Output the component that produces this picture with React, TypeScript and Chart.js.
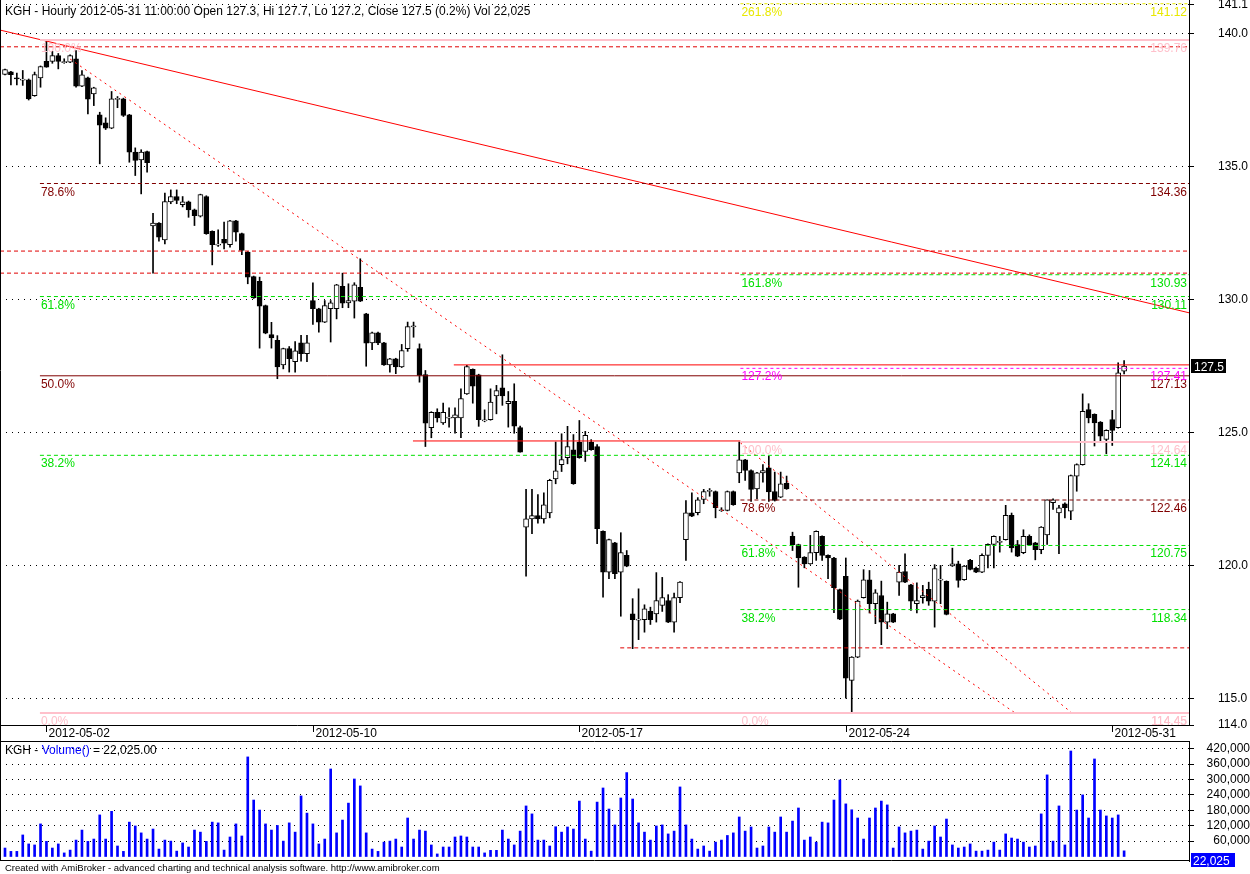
import React, { useEffect, useRef } from "react";
import { Chart, registerables } from "chart.js";
Chart.register(...registerables);

const FONT = '"Liberation Sans", Arial, sans-serif';

// ---------- data (hourly bars, KGH, 2012-04-30 .. 2012-05-31 11:00) ----------
const openP = [
  138.46, 138.56, 138.32, 138.26, 138.26, 137.66, 138.33, 138.95, 138.95, 139.17,
  138.92, 138.92, 139.05, 138.02, 138.33, 137.73, 136.94, 136.64, 136.44, 137.54,
  137.54, 136.94, 135.54, 135.25, 135.56, 132.77, 132.87, 132.24, 133.67, 133.87,
  133.56, 133.67, 133.37, 133.13, 133.87, 132.56, 132.06, 132.26, 132.06, 132.96,
  132.48, 131.78, 130.86, 130.68, 129.77, 128.68, 128.46, 127.54, 128.15, 127.66,
  128.37, 127.96, 129.96, 129.65, 129.15, 129.65, 129.65, 130.49, 129.87, 129.94,
  130.46, 129.46, 128.37, 128.75, 128.37, 127.54, 127.77, 127.46, 128.15, 128.98,
  128.15, 127.18, 125.18, 125.76, 125.36, 125.55, 125.55, 125.55, 126.45, 127.37,
  127.17, 125.45, 125.48, 126.37, 126.68, 126.08, 126.17, 125.18, 121.44, 121.75,
  121.87, 121.75, 121.97, 123.25, 123.79, 124.05, 124.35, 124.64, 124.29, 124.64,
  124.47, 121.28, 119.75, 120.85, 119.75, 120.38, 118.18, 117.96, 117.96, 118.27,
  118.18, 118.50, 118.68, 117.87, 118.79, 120.97, 121.98, 121.98, 122.48, 122.80,
  122.78, 122.07, 122.07, 122.78, 123.48, 123.97, 123.57, 122.88, 123.48, 123.67,
  122.78, 122.57, 123.09, 121.09, 120.78, 120.31, 120.06, 120.48, 121.09, 120.38,
  120.28, 119.09, 119.59, 115.68, 116.55, 118.79, 119.46, 118.56, 118.87, 117.87,
  118.18, 119.37, 119.77, 119.27, 118.56, 118.79, 119.10, 118.66, 119.46, 119.40,
  119.98, 120.06, 119.46, 120.19, 119.90, 119.75, 120.38, 120.79, 120.88, 120.97,
  121.88, 120.78, 120.48, 121.09, 120.85, 120.59, 121.15, 122.36, 121.97, 122.32,
  122.04, 123.36, 123.79, 125.86, 125.68, 125.39, 124.74, 125.48, 125.18, 127.30,
];
const highP = [
  138.66, 138.58, 138.51, 138.61, 138.29, 138.55, 138.78, 139.76, 139.33, 139.25,
  139.05, 139.20, 139.36, 138.61, 138.36, 137.98, 137.04, 136.83, 137.82, 137.63,
  137.57, 136.96, 135.70, 135.63, 135.58, 133.24, 132.89, 134.00, 134.12, 134.12,
  133.87, 133.70, 133.40, 133.96, 133.90, 132.58, 132.62, 132.91, 132.98, 132.98,
  132.50, 131.80, 130.88, 130.84, 129.79, 129.14, 128.64, 128.17, 128.23, 128.42,
  128.65, 128.65, 130.63, 129.67, 129.96, 129.96, 130.57, 130.99, 130.59, 130.63,
  131.53, 129.48, 128.77, 128.77, 128.39, 127.79, 127.79, 128.31, 129.15, 129.15,
  128.33, 127.33, 125.78, 125.89, 126.10, 125.93, 125.93, 126.64, 127.52, 127.39,
  127.19, 125.85, 126.64, 126.77, 127.92, 126.54, 126.83, 125.24, 122.86, 122.86,
  122.66, 122.73, 123.24, 124.64, 124.95, 125.23, 124.92, 125.45, 125.04, 124.73,
  124.54, 121.30, 120.99, 120.87, 121.23, 120.56, 118.75, 119.12, 118.52, 118.43,
  119.73, 119.55, 118.90, 118.96, 119.39, 122.44, 122.73, 122.55, 122.86, 122.89,
  122.80, 122.17, 122.80, 122.80, 124.64, 123.99, 123.59, 123.50, 123.79, 124.10,
  123.51, 123.51, 123.36, 121.25, 120.80, 120.33, 121.13, 121.30, 121.11, 120.40,
  120.30, 119.11, 120.28, 116.57, 118.70, 119.84, 119.81, 119.09, 119.41, 118.62,
  118.20, 120.00, 120.44, 119.29, 119.35, 119.25, 119.37, 120.03, 120.00, 119.42,
  120.65, 120.16, 120.00, 120.23, 119.94, 120.44, 120.81, 121.11, 121.09, 122.26,
  121.97, 120.94, 121.34, 121.15, 120.87, 121.46, 122.47, 122.50, 122.26, 122.35,
  123.40, 123.82, 126.45, 126.08, 125.70, 125.41, 125.10, 125.83, 127.62, 127.70,
];
const lowP = [
  138.44, 138.07, 138.07, 138.05, 137.50, 137.64, 137.98, 138.73, 138.88, 138.67,
  138.88, 138.90, 137.98, 138.00, 136.98, 137.29, 135.10, 136.39, 136.42, 137.21,
  136.88, 135.16, 134.66, 133.97, 134.79, 130.99, 132.19, 132.09, 133.60, 133.60,
  133.48, 133.09, 132.78, 133.10, 132.45, 131.30, 131.99, 131.90, 131.97, 132.19,
  131.68, 130.59, 130.04, 128.17, 128.71, 128.17, 127.02, 127.39, 127.27, 127.27,
  127.68, 127.66, 129.06, 128.77, 129.13, 128.40, 129.27, 129.69, 129.69, 129.30,
  129.92, 127.49, 128.11, 128.30, 127.52, 127.27, 127.21, 127.44, 128.05, 128.58,
  126.89, 124.47, 124.80, 125.39, 125.30, 125.20, 124.97, 124.80, 126.43, 126.10,
  125.23, 125.40, 125.46, 125.70, 126.02, 125.20, 124.97, 124.26, 119.60, 121.19,
  121.59, 121.59, 121.79, 123.07, 123.53, 123.82, 123.05, 124.03, 123.91, 124.33,
  120.82, 118.81, 119.50, 119.50, 118.09, 119.95, 116.87, 117.21, 117.49, 117.78,
  117.87, 118.27, 117.85, 117.49, 118.60, 120.19, 121.83, 121.90, 122.32, 122.60,
  121.79, 122.03, 122.05, 122.26, 123.11, 123.20, 122.41, 122.51, 123.13, 122.41,
  122.42, 122.55, 122.86, 120.56, 119.18, 119.91, 120.04, 120.19, 120.19, 119.50,
  118.22, 117.96, 115.01, 114.45, 116.53, 118.77, 118.21, 117.81, 117.02, 117.62,
  117.85, 118.87, 119.35, 118.31, 118.21, 118.58, 118.50, 117.68, 118.56, 118.14,
  119.96, 119.18, 119.44, 119.83, 119.73, 119.73, 119.91, 119.91, 120.50, 120.95,
  120.50, 120.33, 120.44, 120.76, 120.21, 120.44, 120.79, 122.11, 120.44, 121.79,
  121.72, 122.79, 123.77, 125.36, 124.49, 124.67, 124.20, 124.51, 125.16, 127.20,
];
const closeP = [
  138.64, 138.45, 138.30, 138.27, 137.54, 138.46, 138.76, 138.73, 139.17, 138.95,
  138.93, 139.17, 138.02, 138.45, 137.53, 137.96, 136.55, 136.44, 137.54, 137.55,
  136.92, 135.54, 135.23, 135.54, 135.14, 132.87, 132.34, 133.68, 133.87, 133.72,
  133.67, 133.37, 133.15, 133.94, 132.47, 132.06, 132.07, 132.12, 132.96, 132.53,
  131.84, 130.84, 130.06, 129.75, 128.73, 128.55, 127.46, 128.15, 127.77, 128.07,
  127.96, 128.37, 129.65, 129.15, 129.77, 129.87, 130.55, 129.86, 129.96, 130.55,
  129.94, 128.36, 128.75, 128.37, 127.54, 127.77, 127.46, 128.08, 128.98, 128.99,
  127.14, 125.35, 125.76, 125.55, 125.76, 125.56, 125.66, 126.27, 127.48, 126.74,
  125.48, 125.46, 126.14, 126.57, 126.37, 126.17, 125.24, 124.26, 121.75, 121.87,
  121.75, 122.28, 123.20, 123.56, 123.98, 124.47, 123.07, 124.05, 124.89, 124.35,
  121.38, 119.75, 120.97, 119.69, 120.48, 119.97, 117.96, 117.97, 118.37, 117.96,
  118.68, 118.79, 117.87, 118.79, 119.37, 121.98, 121.85, 122.47, 122.78, 122.81,
  122.17, 122.08, 122.78, 122.28, 123.97, 123.57, 122.86, 123.48, 123.57, 122.76,
  122.44, 123.07, 122.88, 120.78, 120.28, 120.06, 120.48, 121.28, 120.38, 120.28,
  119.16, 117.98, 115.76, 116.55, 118.66, 119.46, 118.56, 118.97, 117.87, 118.18,
  117.87, 119.75, 119.37, 118.66, 118.68, 118.87, 118.66, 119.88, 119.47, 118.16,
  120.06, 119.44, 119.98, 119.85, 119.75, 120.38, 120.79, 121.09, 120.89, 121.88,
  120.66, 120.35, 121.09, 120.78, 120.59, 121.44, 122.47, 122.47, 122.17, 122.17,
  123.38, 123.79, 125.79, 125.55, 125.36, 124.86, 125.08, 125.08, 127.24, 127.50,
];
const volumes = [
  33000, 20000, 20000, 84000, 49000, 45000, 127000, 59000, 33000, 49000,
  14000, 25000, 64000, 103000, 59000, 68000, 162000, 68000, 176000, 41000,
  20000, 134000, 119000, 92000, 68000, 107000, 29000, 64000, 60000, 21000,
  53000, 37000, 103000, 95000, 59000, 134000, 131000, 25000, 76000, 127000,
  80000, 388000, 220000, 181000, 127000, 103000, 121000, 60000, 131000, 95000,
  236000, 169000, 127000, 49000, 68000, 341000, 92000, 142000, 208000, 302000,
  275000, 92000, 29000, 20000, 56000, 60000, 68000, 37000, 150000, 68000,
  103000, 99000, 45000, 10000, 37000, 37000, 76000, 80000, 76000, 37000,
  37000, 14000, 24000, 24000, 103000, 68000, 45000, 99000, 197000, 166000,
  64000, 64000, 41000, 116000, 95000, 115000, 107000, 216000, 68000, 21000,
  212000, 267000, 185000, 123000, 228000, 327000, 224000, 131000, 95000, 64000,
  119000, 123000, 88000, 99000, 271000, 123000, 68000, 29000, 41000, 21000,
  56000, 64000, 82000, 92000, 154000, 99000, 115000, 33000, 41000, 115000,
  95000, 154000, 95000, 138000, 189000, 64000, 76000, 56000, 134000, 131000,
  220000, 298000, 205000, 182000, 150000, 68000, 150000, 189000, 216000, 201000,
  33000, 115000, 92000, 99000, 103000, 29000, 60000, 119000, 76000, 146000,
  45000, 33000, 37000, 49000, 21000, 21000, 25000, 56000, 25000, 88000,
  72000, 68000, 56000, 37000, 41000, 166000, 318000, 60000, 197000, 45000,
  411000, 181000, 240000, 150000, 380000, 181000, 158000, 150000, 162000, 22025,
];

const dateTickIdx = [7, 52, 97, 142, 187];
const dateTickLabels = ["2012-05-02", "2012-05-10", "2012-05-17", "2012-05-24", "2012-05-31"];
const priceTicks = [141.1, 140, 135, 130, 125, 120, 115, 114];
const volTicks = [60000, 120000, 180000, 240000, 300000, 360000, 420000];

// Fibonacci retracement 1 (high 139.76 -> low 114.45)
const fib1Pcts = ["0.0%", "38.2%", "50.0%", "61.8%", "78.6%", "100.0%"];
const fib1Prices = [114.45, 124.14, 127.13, 130.11, 134.36, 139.76];
const fib1Start = 5.9;
// Fibonacci 2 (low 114.45 -> high 124.64, with extensions)
const fib2Pcts = ["0.0%", "38.2%", "61.8%", "78.6%", "100.0%", "127.2%", "161.8%", "261.8%"];
const fib2Prices = [114.45, 118.34, 120.75, 122.46, 124.64, 127.41, 130.93, 141.12];
const fib2Start = 124.2;

// horizontal studies
const dashLevelPrices = [139.5, 131.82, 130.99, 116.9];
const dashLevelStarts = [-0.844, -0.844, -0.844, 103.9];
const solidLevelPrices = [127.54, 124.68];
const solidLevelStarts = [75.8, 68.9];
const solidLevelEnds = [199.96, 124.2];

// trend lines
const trendX0 = [-0.844, 11.0, 124.2];
const trendX1 = [199.96, 170.6, 180.2];
const trendY0 = [140.13, 139.04, 124.61];
const trendY1 = [129.5, 114.45, 114.45];

const X_MIN = -0.844;
const X_MAX = 199.96;

const C_PINK = "#ffc0cb";
const C_GREEN = "#00e000";
const C_DARKRED = "#800000";
const C_RED = "#ff0000";
const C_MAGENTA = "#ff00ff";
const C_YELLOW = "#e8e800";
const C_BLUE = "#0000ff";

function fibColor(p: string) {
  if (p === "0.0%" || p === "100.0%") return C_PINK;
  if (p === "38.2%" || p === "61.8%" || p === "161.8%") return C_GREEN;
  if (p === "50.0%" || p === "78.6%") return C_DARKRED;
  if (p === "127.2%") return C_MAGENTA;
  return C_YELLOW;
}
function fibStyle(p: string) {
  if (p === "0.0%" || p === "100.0%") return { w: 2, dash: [] as number[] };
  if (p === "50.0%") return { w: 1, dash: [] as number[] };
  if (p === "127.2%" || p === "261.8%") return { w: 1, dash: [3, 3] };
  return { w: 1, dash: [4, 3] };
}

function lineDs(x0: number, x1: number, y0: number, y1: number, color: string, w: number, dash: number[]) {
  return {
    type: "line",
    data: [{ x: x0, y: y0 }, { x: x1, y: y1 }],
    borderColor: color,
    borderWidth: w,
    borderDash: dash,
    pointRadius: 0,
    fill: false,
    tension: 0,
    order: 1,
  };
}

function fixAxis(width: number) {
  return (s: any) => {
    s.width = width;
    s.paddingTop = 0;
    s.paddingBottom = 0;
  };
}

const pricePlugin = {
  id: "priceOverlay",
  afterDatasetsDraw(chart: any) {
    const { ctx, chartArea, scales } = chart;
    const xs = scales.x;
    const ys = scales.y;
    ctx.save();
    ctx.font = `12px ${FONT}`;
    ctx.textBaseline = "alphabetic";
    const drawFib = (pcts: string[], prices: number[], start: number) => {
      const lx = xs.getPixelForValue(start) + 1;
      pcts.forEach((p, k) => {
        const py = ys.getPixelForValue(prices[k]);
        ctx.fillStyle = fibColor(p);
        ctx.textAlign = "left";
        ctx.fillText(p, lx, py + 12);
        ctx.textAlign = "right";
        ctx.fillText(prices[k].toFixed(2), chartArea.right - 2, py + 12);
      });
    };
    drawFib(fib1Pcts, fib1Prices, fib1Start);
    drawFib(fib2Pcts, fib2Prices, fib2Start);
    ctx.restore();
  },
  afterDraw(chart: any) {
    const { ctx, chartArea, scales } = chart;
    const xs = scales.x;
    const ys = scales.y;
    ctx.save();
    // frame
    ctx.strokeStyle = "#000";
    ctx.lineWidth = 1;
    ctx.beginPath();
    ctx.moveTo(0.5, 0);
    ctx.lineTo(0.5, 741);
    ctx.moveTo(0, Math.round(chartArea.bottom) + 0.5);
    ctx.lineTo(chartArea.right, Math.round(chartArea.bottom) + 0.5);
    ctx.stroke();
    // title
    ctx.font = `12px ${FONT}`;
    ctx.fillStyle = "#000";
    ctx.textAlign = "left";
    ctx.textBaseline = "alphabetic";
    ctx.fillText(
      "KGH - Hourly 2012-05-31 11:00:00 Open 127.3, Hi 127.7, Lo 127.2, Close 127.5 (0.2%) Vol 22,025",
      5,
      15
    );
    // date axis
    const by = Math.round(chartArea.bottom);
    dateTickIdx.forEach((idx, k) => {
      const px = Math.round(xs.getPixelForValue(idx)) + 0.5;
      ctx.beginPath();
      ctx.moveTo(px, by + 1);
      ctx.lineTo(px, by + 7);
      ctx.stroke();
      ctx.fillText(dateTickLabels[k], px + 2, by + 12);
    });
    // last price box
    const last = closeP[closeP.length - 1];
    const py = ys.getPixelForValue(last);
    ctx.fillStyle = "#000";
    ctx.fillRect(chartArea.right + 2, Math.round(py) - 7, 35, 14);
    ctx.fillStyle = "#fff";
    ctx.fillText(last.toFixed(1), chartArea.right + 5, Math.round(py) + 5);
    ctx.restore();
  },
};

const volPlugin = {
  id: "volOverlay",
  afterDraw(chart: any) {
    const { ctx, chartArea, scales } = chart;
    const ys = scales.y;
    ctx.save();
    ctx.strokeStyle = "#000";
    ctx.lineWidth = 1;
    ctx.beginPath();
    ctx.moveTo(0, 0.5);
    ctx.lineTo(chartArea.right, 0.5);
    ctx.moveTo(0, Math.round(chartArea.bottom) - 0.5);
    ctx.lineTo(chartArea.right, Math.round(chartArea.bottom) - 0.5);
    ctx.moveTo(0.5, 0);
    ctx.lineTo(0.5, chartArea.bottom);
    ctx.stroke();
    // title
    ctx.font = `12px ${FONT}`;
    ctx.textAlign = "left";
    ctx.textBaseline = "alphabetic";
    let x = 5;
    const parts: [string, string][] = [
      ["KGH - ", "#000"],
      ["Volume()", C_BLUE],
      [" = 22,025.00", "#000"],
    ];
    parts.forEach(([t, c]) => {
      ctx.fillStyle = c;
      ctx.fillText(t, x, 13);
      x += ctx.measureText(t).width;
    });
    // value box
    const lastV = volumes[volumes.length - 1];
    const vy = Math.round(ys.getPixelForValue(lastV));
    ctx.fillStyle = C_BLUE;
    ctx.fillRect(chartArea.right + 2, vy + 2, 44, 14);
    ctx.fillStyle = "#fff";
    ctx.fillText(lastV.toLocaleString("en-US"), chartArea.right + 4, vy + 14);
    // footer
    ctx.fillStyle = "#000";
    ctx.font = `9.5px ${FONT}`;
    ctx.fillText(
      "Created with AmiBroker - advanced charting and technical analysis software. http://www.amibroker.com",
      5,
      130
    );
    ctx.restore();
  },
};

function priceConfig(): any {
  const wickData = lowP.map((l, i) => ({ x: i, y: [l, highP[i]] }));
  const bodyData = openP.map((o, i) => {
    const c = closeP[i];
    let lo = Math.min(o, c);
    let hi = Math.max(o, c);
    if (hi - lo < 0.04) {
      const m = (hi + lo) / 2;
      lo = m - 0.02;
      hi = m + 0.02;
    }
    return { x: i, y: [lo, hi] };
  });
  const bodyColors = openP.map((o, i) => (closeP[i] >= o ? "#ffffff" : "#000000"));

  const lines: any[] = [];
  fib1Pcts.forEach((p, k) => {
    const st = fibStyle(p);
    lines.push(lineDs(fib1Start, X_MAX, fib1Prices[k], fib1Prices[k], fibColor(p), st.w, st.dash));
  });
  fib2Pcts.forEach((p, k) => {
    const st = fibStyle(p);
    lines.push(lineDs(fib2Start, X_MAX, fib2Prices[k], fib2Prices[k], fibColor(p), st.w, st.dash));
  });
  dashLevelPrices.forEach((v, k) => {
    lines.push(lineDs(dashLevelStarts[k], X_MAX, v, v, "#e00000", 1, [4, 3]));
  });
  solidLevelPrices.forEach((v, k) => {
    lines.push(lineDs(solidLevelStarts[k], solidLevelEnds[k], v, v, C_RED, 1, []));
  });
  trendX0.forEach((x0, k) => {
    lines.push(lineDs(x0, trendX1[k], trendY0[k], trendY1[k], C_RED, 1, k === 0 ? [] : [2, 4]));
  });

  return {
    type: "bar",
    data: {
      datasets: [
        {
          type: "bar",
          data: wickData,
          backgroundColor: "#000",
          borderWidth: 0,
          barThickness: 1,
          grouped: false,
          order: 3,
        },
        {
          type: "bar",
          data: bodyData,
          backgroundColor: bodyColors,
          borderColor: "#000",
          borderWidth: 1,
          borderSkipped: false,
          barThickness: 5,
          grouped: false,
          order: 2,
        },
        ...lines,
      ],
    },
    options: {
      responsive: false,
      maintainAspectRatio: false,
      animation: false,
      devicePixelRatio: 1,
      events: [],
      layout: { padding: { left: 0, right: 0, top: 0, bottom: 16 } },
      plugins: { legend: { display: false }, tooltip: { enabled: false }, title: { display: false } },
      scales: {
        x: { type: "linear", min: X_MIN, max: X_MAX, display: false, offset: false },
        y: {
          type: "linear",
          position: "right",
          min: 114.0,
          max: 141.26,
          afterFit: fixAxis(61),
          afterBuildTicks: (s: any) => {
            s.ticks = priceTicks.map((v) => ({ value: v }));
          },
          ticks: {
            autoSkip: false,
            padding: 24,
            color: "#000",
            font: { family: FONT, size: 12 },
            callback: (v: any) => Number(v).toFixed(1),
          },
          grid: { color: "#000", lineWidth: 1, tickLength: 5, tickColor: "#000", drawTicks: true },
          border: { display: true, color: "#000", width: 1, dash: [1, 5] },
        },
      },
    },
    plugins: [pricePlugin],
  };
}

function volConfig(): any {
  const volData = volumes.map((v, i) => ({ x: i, y: v }));
  return {
    type: "bar",
    data: {
      datasets: [
        {
          type: "bar",
          data: volData,
          backgroundColor: C_BLUE,
          borderWidth: 0,
          barThickness: 2,
          grouped: false,
        },
      ],
    },
    options: {
      responsive: false,
      maintainAspectRatio: false,
      animation: false,
      devicePixelRatio: 1,
      events: [],
      layout: { padding: { left: 0, right: 0, top: 0, bottom: 13 } },
      plugins: { legend: { display: false }, tooltip: { enabled: false }, title: { display: false } },
      scales: {
        x: { type: "linear", min: X_MIN, max: X_MAX, display: false, offset: false },
        y: {
          type: "linear",
          position: "right",
          min: -17500,
          max: 450000,
          afterFit: fixAxis(61),
          afterBuildTicks: (s: any) => {
            s.ticks = volTicks.map((v) => ({ value: v }));
          },
          ticks: {
            autoSkip: false,
            padding: 10,
            crossAlign: "far",
            color: "#000",
            font: { family: FONT, size: 12 },
            callback: (v: any) => Number(v).toLocaleString("en-US"),
          },
          grid: { color: "#000", lineWidth: 1, tickLength: 5, tickColor: "#000", drawTicks: true },
          border: { display: true, color: "#000", width: 1, dash: [1, 5] },
        },
      },
    },
    plugins: [volPlugin],
  };
}

export default function App() {
  const priceRef = useRef<HTMLCanvasElement>(null);
  const volRef = useRef<HTMLCanvasElement>(null);
  useEffect(() => {
    document.body.style.margin = "0";
    document.body.style.background = "#fff";
    const pc = new Chart(priceRef.current as HTMLCanvasElement, priceConfig());
    const vc = new Chart(volRef.current as HTMLCanvasElement, volConfig());
    return () => {
      pc.destroy();
      vc.destroy();
    };
  }, []);
  return (
    <div style={{ position: "relative", width: 1250, height: 874, background: "#fff", overflow: "hidden" }}>
      <canvas ref={priceRef} width={1250} height={741} style={{ position: "absolute", left: 0, top: 0 }} />
      <canvas ref={volRef} width={1250} height={133} style={{ position: "absolute", left: 0, top: 741 }} />
    </div>
  );
}
